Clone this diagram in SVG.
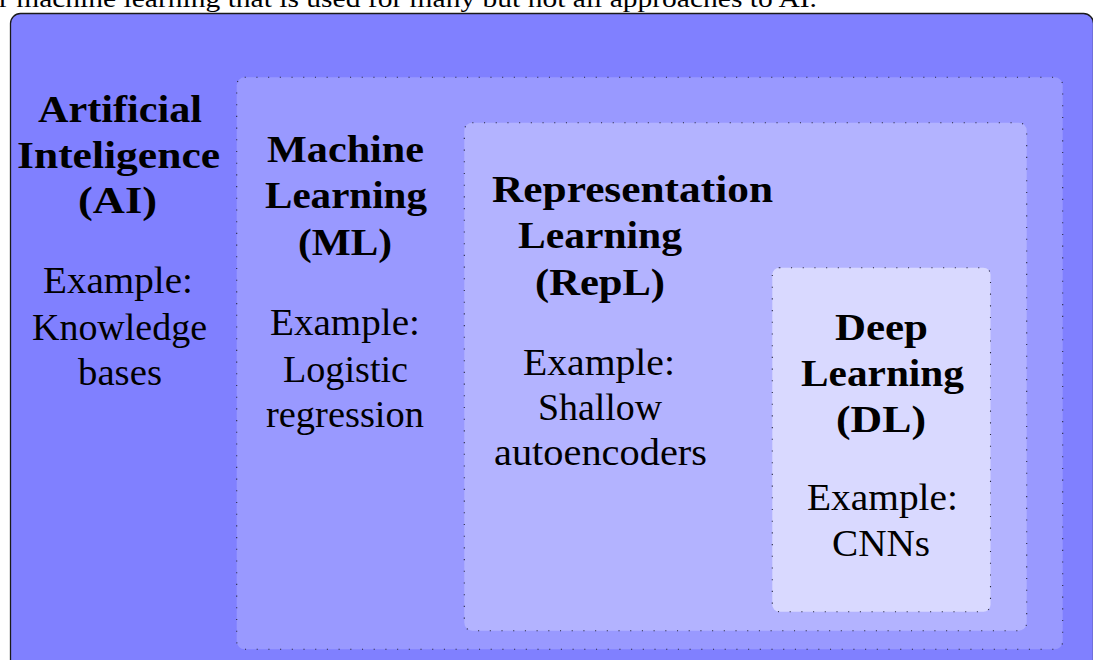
<svg xmlns="http://www.w3.org/2000/svg" width="1093" height="660" viewBox="0 0 1093 660">
  <style>
    .cap { font-family: "Liberation Serif", "Times New Roman", serif; font-size: 26px; fill: #000; }
    .t { font-family: "Liberation Serif", "Times New Roman", serif; font-size: 37px; font-weight: bold; fill: #000; }
    .b { font-family: "Liberation Serif", "Times New Roman", serif; font-size: 37px; fill: #000; }
    .box { stroke: #2a2a40; stroke-width: 1.1; stroke-dasharray: 1.1 10.6; }
  </style>
  <rect width="1093" height="660" fill="#ffffff"/>

  <!-- caption line running off the top edge -->
  <text class="cap" x="-1" y="7" textLength="818" lengthAdjust="spacingAndGlyphs">r machine learning that is used for many but not all approaches to AI.</text>

  <!-- Artificial Intelligence -->
  <g id="ai">
    <rect x="10.5" y="13.5" width="1083" height="700" rx="10" fill="#8080ff" stroke="#1a1a1a" stroke-width="1.3"/>
    <text class="t" x="38" y="122" textLength="164" lengthAdjust="spacingAndGlyphs">Artificial</text>
    <text class="t" x="17" y="168" textLength="203" lengthAdjust="spacingAndGlyphs">Inteligence</text>
    <text class="t" x="78" y="213" textLength="79" lengthAdjust="spacingAndGlyphs">(AI)</text>
    <text class="b" x="43" y="293" textLength="150" lengthAdjust="spacingAndGlyphs">Example:</text>
    <text class="b" x="32" y="340" textLength="175" lengthAdjust="spacingAndGlyphs">Knowledge</text>
    <text class="b" x="78" y="385" textLength="84" lengthAdjust="spacingAndGlyphs">bases</text>
  </g>

  <!-- Machine Learning -->
  <g id="ml">
    <rect class="box" x="236.7" y="77.3" width="826" height="572" rx="8" fill="#9999ff"/>
    <text class="t" x="267" y="162" textLength="157" lengthAdjust="spacingAndGlyphs">Machine</text>
    <text class="t" x="265" y="208" textLength="162" lengthAdjust="spacingAndGlyphs">Learning</text>
    <text class="t" x="298" y="255" textLength="94" lengthAdjust="spacingAndGlyphs">(ML)</text>
    <text class="b" x="270" y="335" textLength="150" lengthAdjust="spacingAndGlyphs">Example:</text>
    <text class="b" x="283" y="382" textLength="125" lengthAdjust="spacingAndGlyphs">Logistic</text>
    <text class="b" x="266" y="427" textLength="158" lengthAdjust="spacingAndGlyphs">regression</text>
  </g>

  <!-- Representation Learning -->
  <g id="repl">
    <rect class="box" x="464.3" y="122.7" width="562.4" height="508" rx="8" fill="#b3b3ff"/>
    <text class="t" x="492" y="202" textLength="281" lengthAdjust="spacingAndGlyphs">Representation</text>
    <text class="t" x="518" y="248" textLength="164" lengthAdjust="spacingAndGlyphs">Learning</text>
    <text class="t" x="535" y="295" textLength="130" lengthAdjust="spacingAndGlyphs">(RepL)</text>
    <text class="b" x="523" y="375" textLength="152" lengthAdjust="spacingAndGlyphs">Example:</text>
    <text class="b" x="538" y="420" textLength="124" lengthAdjust="spacingAndGlyphs">Shallow</text>
    <text class="b" x="494" y="465" textLength="213" lengthAdjust="spacingAndGlyphs">autoencoders</text>
  </g>

  <!-- Deep Learning -->
  <g id="dl">
    <rect class="box" x="772.3" y="267.7" width="218.2" height="344" rx="7" fill="#d9d9ff"/>
    <text class="t" x="835" y="340" textLength="93" lengthAdjust="spacingAndGlyphs">Deep</text>
    <text class="t" x="801" y="386" textLength="163" lengthAdjust="spacingAndGlyphs">Learning</text>
    <text class="t" x="836" y="432" textLength="90" lengthAdjust="spacingAndGlyphs">(DL)</text>
    <text class="b" x="807" y="510" textLength="151" lengthAdjust="spacingAndGlyphs">Example:</text>
    <text class="b" x="832" y="556" textLength="98" lengthAdjust="spacingAndGlyphs">CNNs</text>
  </g>

  <!-- no connectors in this diagram -->
  <g id="connectors"/>
</svg>
